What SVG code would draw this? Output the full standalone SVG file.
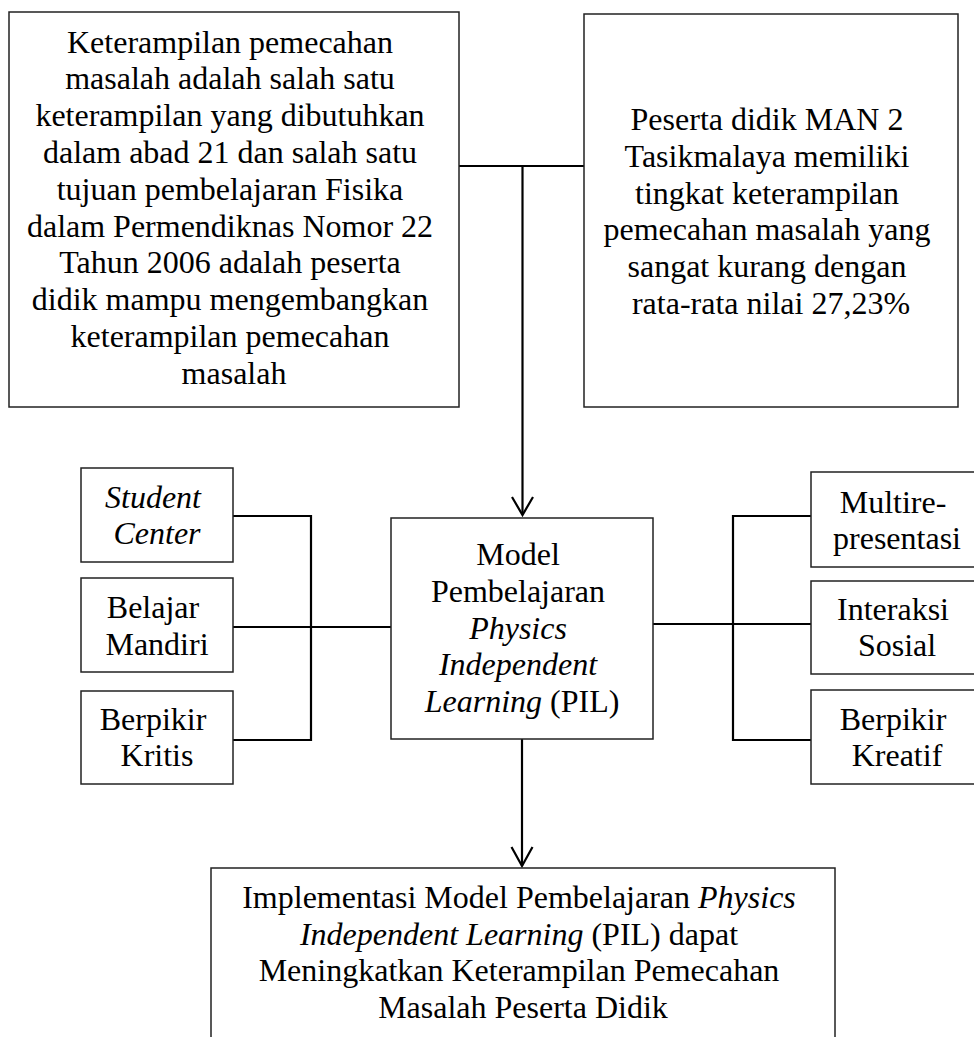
<svg xmlns="http://www.w3.org/2000/svg" width="974" height="1037" viewBox="0 0 974 1037">
<style>
  .box { fill: #ffffff; stroke: #222; stroke-width: 1.5; }
  .t { font-family: "Liberation Serif", "Times New Roman", serif; font-size: 32px; fill: #000; text-anchor: middle; }
  .i { font-style: italic; }
  .c { fill: none; stroke: #000; stroke-width: 2.2; }
  .ah { fill: none; stroke: #000; stroke-width: 2.2; stroke-linejoin: miter; }
</style>
<rect width="974" height="1037" fill="#ffffff"/>

<g id="connectors">
  <path class="c" d="M459,166 H584"/>
  <path class="c" d="M522.5,166 V515"/>
  <path class="ah" d="M512,497 L522.5,515 L533,497"/>
  <path class="c" d="M522,739 V866"/>
  <path class="ah" d="M511.5,847 L522,866 L532.5,847"/>
  <path class="c" d="M233,516 H311 V740 H233"/>
  <path class="c" d="M233,627 H391"/>
  <path class="c" d="M811,516 H733 V740 H811"/>
  <path class="c" d="M653,624 H811"/>
</g>

<g id="node-top-left">
  <rect class="box" x="9" y="12" width="450" height="395"/>
  <text class="t">
    <tspan x="234" y="52.5">Keterampilan pemecahan</tspan>
    <tspan x="234" y="89.3">masalah adalah salah satu</tspan>
    <tspan x="234" y="126.1">keterampilan yang dibutuhkan</tspan>
    <tspan x="234" y="162.9">dalam abad 21 dan salah satu</tspan>
    <tspan x="234" y="199.7">tujuan pembelajaran Fisika</tspan>
    <tspan x="234" y="236.5">dalam Permendiknas Nomor 22</tspan>
    <tspan x="234" y="273.3">Tahun 2006 adalah peserta</tspan>
    <tspan x="234" y="310.1">didik mampu mengembangkan</tspan>
    <tspan x="234" y="346.9">keterampilan pemecahan</tspan>
    <tspan x="234" y="383.7">masalah</tspan>
  </text>
</g>

<g id="node-top-right">
  <rect class="box" x="584" y="14" width="374" height="393"/>
  <text class="t">
    <tspan x="771" y="130">Peserta didik MAN 2</tspan>
    <tspan x="771" y="166.8">Tasikmalaya memiliki</tspan>
    <tspan x="771" y="203.6">tingkat keterampilan</tspan>
    <tspan x="771" y="240.4">pemecahan masalah yang</tspan>
    <tspan x="771" y="277.2">sangat kurang dengan</tspan>
    <tspan x="771" y="314">rata-rata nilai 27,23%</tspan>
  </text>
</g>

<g id="node-center">
  <rect class="box" x="391" y="518" width="262" height="221"/>
  <text class="t">
    <tspan x="522" y="565">Model</tspan>
    <tspan x="522" y="601.8">Pembelajaran</tspan>
    <tspan x="522" y="638.6" class="i">Physics</tspan>
    <tspan x="522" y="675.4" class="i">Independent</tspan>
    <tspan x="522" y="712.2"><tspan class="i">Learning</tspan> (PIL)</tspan>
  </text>
</g>

<g id="node-student-center">
  <rect class="box" x="81" y="468" width="152" height="94"/>
  <text class="t i">
    <tspan x="157" y="508">Student</tspan>
    <tspan x="157" y="544">Center</tspan>
  </text>
</g>

<g id="node-belajar-mandiri">
  <rect class="box" x="81" y="578" width="152" height="94"/>
  <text class="t">
    <tspan x="157" y="618">Belajar</tspan>
    <tspan x="157" y="655">Mandiri</tspan>
  </text>
</g>

<g id="node-berpikir-kritis">
  <rect class="box" x="81" y="691" width="152" height="93"/>
  <text class="t">
    <tspan x="157" y="730">Berpikir</tspan>
    <tspan x="157" y="766">Kritis</tspan>
  </text>
</g>

<g id="node-multirepresentasi">
  <rect class="box" x="811" y="472" width="172" height="95"/>
  <text class="t">
    <tspan x="897" y="513">Multire-</tspan>
    <tspan x="897" y="548.5">presentasi</tspan>
  </text>
</g>

<g id="node-interaksi-sosial">
  <rect class="box" x="811" y="581" width="172" height="93"/>
  <text class="t">
    <tspan x="897" y="620">Interaksi</tspan>
    <tspan x="897" y="656">Sosial</tspan>
  </text>
</g>

<g id="node-berpikir-kreatif">
  <rect class="box" x="811" y="690" width="172" height="94"/>
  <text class="t">
    <tspan x="897" y="730">Berpikir</tspan>
    <tspan x="897" y="766">Kreatif</tspan>
  </text>
</g>

<g id="node-bottom">
  <rect class="box" x="211" y="868" width="624" height="190"/>
  <text class="t">
    <tspan x="523" y="908">Implementasi Model Pembelajaran <tspan class="i">Physics</tspan></tspan>
    <tspan x="523" y="944.5"><tspan class="i">Independent Learning</tspan> (PIL) dapat</tspan>
    <tspan x="523" y="981">Meningkatkan Keterampilan Pemecahan</tspan>
    <tspan x="523" y="1017.5">Masalah Peserta Didik</tspan>
  </text>
</g>
</svg>
